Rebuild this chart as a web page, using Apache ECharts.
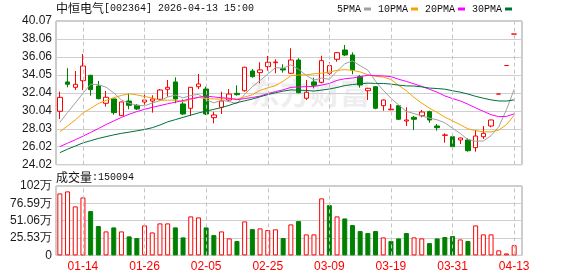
<!DOCTYPE html>
<html><head><meta charset="utf-8">
<script src="https://cdn.jsdelivr.net/npm/echarts@6/dist/echarts.min.js"></script>
<style>html,body{margin:0;padding:0;background:#fff}#c{width:578px;height:276px}</style>
</head><body><div id="c"></div>
<script>
// ---- data ----
const stockName = '中恒电气';
const stockCode = '[002364] 2026-04-13 15:00';
const dates = ['01-09','01-12','01-13','01-14','01-15','01-16','01-19','01-20','01-21','01-22','01-23','01-26','01-27','01-28','01-29','01-30','02-02','02-03','02-04','02-05','02-06','02-09','02-10','02-11','02-12','02-13','02-24','02-25','02-26','02-27','03-02','03-03','03-04','03-05','03-06','03-09','03-10','03-11','03-12','03-13','03-16','03-17','03-18','03-19','03-20','03-23','03-24','03-25','03-26','03-27','03-30','03-31','04-01','04-02','04-03','04-07','04-08','04-09','04-10','04-13'];
const opens  = [29.98,33.26,32.66,33.40,34.00,32.81,30.88,31.36,29.49,31.13,30.65,31.02,31.13,31.32,32.44,33.26,30.80,30.32,32.73,32.47,29.27,30.43,31.24,31.99,32.28,34.48,34.30,34.97,35.41,34.74,34.23,35.71,31.44,33.26,33.22,34.23,35.79,36.83,36.27,33.85,32.28,32.73,30.61,30.15,30.61,28.90,29.31,29.49,29.94,28.34,27.30,27.14,26.78,26.78,25.92,27.14,28.34,31.91,35.10,38.61];
const closes = [31.54,33.00,33.00,35.04,32.40,31.39,31.55,29.83,31.02,30.65,30.24,31.24,31.36,32.36,32.66,31.36,29.68,32.66,33.03,29.68,29.57,31.13,31.91,31.84,34.90,33.85,34.60,35.46,35.49,34.60,35.71,32.06,32.11,32.89,35.64,35.08,36.53,36.27,34.60,32.92,32.55,30.32,31.24,30.22,29.09,29.01,29.09,29.90,29.01,28.15,27.34,26.03,27.00,25.58,27.22,27.52,29.01,31.91,35.10,38.61];
const lows   = [29.12,32.66,32.36,32.36,31.73,31.32,30.50,29.60,29.45,30.21,30.13,30.43,29.83,31.24,31.62,30.88,29.57,29.49,32.47,29.57,28.64,29.68,31.06,31.73,32.17,33.74,33.11,34.52,34.23,34.30,34.15,31.99,31.24,32.55,33.11,34.04,35.52,36.16,34.12,32.62,31.24,30.21,30.05,30.12,29.01,28.34,27.89,29.31,28.71,27.82,26.47,25.96,26.33,25.47,25.47,26.89,28.19,31.91,35.10,38.61];
const highs  = [32.18,34.79,34.48,36.38,34.05,33.37,32.25,31.40,31.05,31.95,30.80,32.25,31.77,32.47,33.48,33.78,31.30,32.70,34.15,32.73,29.94,32.17,32.47,32.89,34.95,34.71,35.46,36.16,35.79,35.23,37.02,35.91,33.48,33.74,36.19,35.46,36.60,37.39,36.57,34.04,32.60,32.81,31.30,30.80,30.65,30.43,29.46,30.13,30.05,28.56,27.52,27.33,27.05,26.97,27.89,28.34,29.05,31.91,35.10,38.61];
const volumes = [912000,942000,721000,853000,652000,432000,353000,412000,353000,280000,255000,441000,338000,471000,471000,412000,265000,574000,559000,412000,299000,353000,250000,211000,500000,387000,397000,373000,383000,255000,456000,505000,309000,309000,839000,740000,574000,544000,446000,358000,329000,358000,265000,211000,250000,329000,265000,250000,181000,250000,270000,284000,235000,211000,441000,309000,309000,74000,29000,150094];
// moving-average values for days whose window starts before the first visible day
const ma5Head  = [28.75,29.85,30.90,32.00];
const ma10Head = [27.68,28.35,29.01,29.80,30.30,30.85,31.20,31.50,31.75];
const ma20Head = [26.03,26.42,26.80,27.20,27.62,28.05,28.50,28.90,29.30,29.65,29.95,30.20,30.42,30.62,30.82,31.00,31.18,31.38,31.55];
const ma30Head = [25.36,25.75,26.10,26.45,26.70,26.95,27.15,27.35,27.52,27.65,27.80,27.95,28.15,28.45,28.80,29.05,29.30,29.55,29.80,30.00,30.20,30.40,30.65,30.95,31.15,31.35,31.60,31.85,32.05];
const maNames = ['5PMA','10PMA','20PMA','30PMA'];
const xLabels = ['01-14','01-26','02-05','02-25','03-09','03-19','03-31','04-13'];
const priceTicks = ['24.02','26.02','28.03','30.04','32.04','34.05','36.06','38.06','40.07'];
const priceMin = 24.016, priceMax = 40.068, priceStep = 2.0065;
const volTicks = ['0','25.53万','51.06万','76.59万','102万'];
const volMax = 1021200, volStep = 255300;

// ---- derived ----
function movingAverage(n, head) {
  return closes.map((c, i) => {
    if (i < head.length) return head[i];
    let s = 0;
    for (let k = i - n + 1; k <= i; k++) s += closes[k];
    return +(s / n).toFixed(3);
  });
}
const maData = [movingAverage(5, ma5Head), movingAverage(10, ma10Head), movingAverage(20, ma20Head), movingAverage(30, ma30Head)];
const maColors = ['#a0a0a0', '#f5a300', '#ff00ff', '#00703a'];
const RED = '#ff0000', GREEN = '#008000';
const candleData = dates.map((d, i) => [opens[i], closes[i], lows[i], highs[i]]);
const volData = volumes.map((v, i) => {
  const up = i === 0 || closes[i] >= closes[i - 1];
  return { value: v, itemStyle: up ? { color: '#fff', borderColor: RED, borderWidth: 1 } : { color: GREEN, borderColor: GREEN, borderWidth: 1 } };
});
const vLines = {
  silent: true, symbol: ['none', 'none'], label: { show: false }, animation: false,
  lineStyle: { color: '#c4c4c4', type: [4, 3], width: 1 },
  emphasis: { disabled: true },
  data: xLabels.map(v => ({ xAxis: v }))
};
const latin = 'Liberation Sans, Arial, sans-serif';
const mono = 'Liberation Mono, DejaVu Sans Mono, monospace';
const cjk = 'Noto Sans CJK SC, sans-serif';
const richTitle = {
  a: { fontFamily: cjk, fontSize: 12, fontWeight: 'normal', color: '#111' },
  b: { fontFamily: mono, fontSize: 10, fontWeight: 'normal', color: '#111' }
};

const chart = echarts.init(document.getElementById('c'), null, { renderer: 'canvas' });
chart.setOption({
  animation: false,
  backgroundColor: '#fff',
  title: [
    { text: '{a|' + stockName + '}{b|' + stockCode + '}', left: 56, top: 2, padding: 0,
      textStyle: { fontWeight: 'normal', rich: richTitle } },
    { text: '{a|成交量}{b|:' + volumes[volumes.length - 1] + '}', left: 56, top: 171, padding: 0,
      textStyle: { fontWeight: 'normal', rich: richTitle } }
  ],
  legend: {
    data: maNames, right: 66, top: 4, icon: 'rect', itemWidth: 7, itemHeight: 3, itemGap: 7, align: 'right',
    selectedMode: false, padding: 0,
    textStyle: { fontFamily: mono, fontSize: 10, color: '#111', padding: [0, -2, 0, 0] }
  },
  graphic: [{
    type: 'text', left: 250, top: 78, z: 0, silent: true,
    style: { text: '东方财富', fontFamily: cjk, fontSize: 30, fontWeight: 'bold', fill: 'rgba(150,150,165,0.16)' }
  }],
  grid: [
    { left: 56, top: 21, width: 466, height: 143.7, show: true, borderColor: '#9a9a9a', borderWidth: 1, backgroundColor: 'transparent' },
    { left: 56, top: 21, width: 462, height: 143.7 },
    { left: 56, top: 186, width: 466, height: 69.4, show: true, borderColor: '#9a9a9a', borderWidth: 1, backgroundColor: 'transparent' },
    { left: 56, top: 186, width: 462, height: 69.4 }
  ],
  xAxis: [
    { gridIndex: 0, type: 'value', min: 0, max: 1, show: false },
    { gridIndex: 1, type: 'category', data: dates, boundaryGap: true, axisLine: { show: false }, axisTick: { show: false }, axisLabel: { show: false }, splitLine: { show: false } },
    { gridIndex: 2, type: 'value', min: 0, max: 1, show: false },
    { gridIndex: 3, type: 'category', data: dates, boundaryGap: true, axisLine: { show: false }, axisTick: { show: false }, splitLine: { show: false },
      axisLabel: { interval: (idx, val) => xLabels.includes(val), color: RED, fontFamily: latin, fontSize: 12, margin: 5 } }
  ],
  yAxis: [
    { gridIndex: 0, type: 'value', min: priceMin, max: priceMax, interval: priceStep,
      axisLine: { show: false }, axisTick: { show: false },
      axisLabel: { formatter: v => priceTicks[Math.round((v - priceMin) / priceStep)], color: '#1a1a1a', fontFamily: latin, fontSize: 12, margin: 4 },
      splitLine: { lineStyle: { color: '#cfcfcf', width: 1 } } },
    { gridIndex: 1, type: 'value', min: priceMin, max: priceMax, show: false, splitLine: { show: false } },
    { gridIndex: 2, type: 'value', min: 0, max: volMax, interval: volStep,
      axisLine: { show: false }, axisTick: { show: false },
      axisLabel: { formatter: v => volTicks[Math.round(v / volStep)], color: '#1a1a1a', fontFamily: latin, fontSize: 12, margin: 4 },
      splitLine: { lineStyle: { color: '#cfcfcf', width: 1 } } },
    { gridIndex: 3, type: 'value', min: 0, max: volMax, show: false, splitLine: { show: false } }
  ],
  series: [
    { type: 'candlestick', name: 'K', xAxisIndex: 1, yAxisIndex: 1, data: candleData, barWidth: 5,
      itemStyle: { color: '#fff', color0: GREEN, borderColor: RED, borderColor0: GREEN, borderWidth: 1 },
      markLine: vLines },
    ...maNames.map((n, k) => ({
      type: 'line', name: n, xAxisIndex: 1, yAxisIndex: 1, data: maData[k], symbol: 'none', showSymbol: false,
      lineStyle: { color: maColors[k], width: 1 }, itemStyle: { color: maColors[k] }, silent: true
    })),
    { type: 'bar', name: 'VOL', xAxisIndex: 3, yAxisIndex: 3, data: volData, barWidth: 5, markLine: vLines }
  ]
});
</script></body></html>
